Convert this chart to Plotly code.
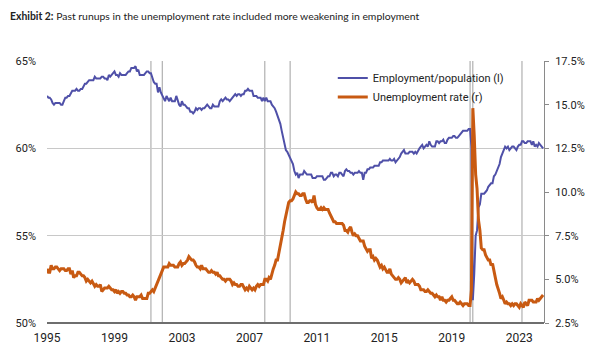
import pandas as pd
import plotly.graph_objects as go

# Monthly data, Jan 1995 onward
emp_pop = [
    63.0, 62.9, 62.9, 62.8, 62.6, 62.5, 62.6, 62.6, 62.6, 62.6, 62.5, 62.5,  # 1995
    62.7, 62.9, 62.9, 63.0, 63.0, 63.2, 63.3, 63.3, 63.3, 63.4, 63.3, 63.3,  # 1996
    63.4, 63.4, 63.6, 63.7, 63.7, 63.8, 63.9, 63.9, 63.9, 63.9, 64.1, 64.0,  # 1997
    64.0, 64.0, 64.0, 64.1, 64.1, 64.0, 64.0, 63.9, 64.2, 64.1, 64.2, 64.3,  # 1998
    64.4, 64.2, 64.2, 64.1, 64.3, 64.2, 64.2, 64.2, 64.2, 64.3, 64.4, 64.4,  # 1999
    64.6, 64.6, 64.6, 64.7, 64.4, 64.5, 64.2, 64.2, 64.2, 64.2, 64.3, 64.4,  # 2000
    64.4, 64.3, 64.3, 64.0, 63.8, 63.7, 63.7, 63.2, 63.5, 63.2, 63.0, 62.9,  # 2001
    62.7, 63.0, 62.8, 62.7, 62.9, 62.7, 62.7, 62.7, 63.0, 62.7, 62.5, 62.4,  # 2002
    62.7, 62.5, 62.5, 62.4, 62.3, 62.3, 62.1, 62.1, 62.0, 62.1, 62.3, 62.2,  # 2003
    62.3, 62.3, 62.2, 62.3, 62.3, 62.4, 62.5, 62.4, 62.3, 62.3, 62.5, 62.4,  # 2004
    62.4, 62.4, 62.4, 62.7, 62.8, 62.7, 62.8, 62.9, 62.8, 62.8, 62.7, 62.8,  # 2005
    62.9, 63.0, 63.1, 63.0, 63.1, 63.1, 63.0, 63.1, 63.1, 63.3, 63.3, 63.4,  # 2006
    63.3, 63.3, 63.3, 63.0, 63.0, 63.0, 62.9, 62.9, 62.9, 62.7, 62.9, 62.7,  # 2007
    62.9, 62.7, 62.7, 62.7, 62.5, 62.4, 62.3, 62.1, 61.9, 61.7, 61.4, 61.0,  # 2008
    60.6, 60.3, 59.9, 59.8, 59.6, 59.4, 59.3, 59.1, 58.7, 58.5, 58.6, 58.3,  # 2009
    58.5, 58.5, 58.5, 58.7, 58.6, 58.5, 58.5, 58.5, 58.5, 58.3, 58.3, 58.3,  # 2010
    58.4, 58.4, 58.4, 58.4, 58.4, 58.2, 58.2, 58.3, 58.4, 58.4, 58.6, 58.6,  # 2011
    58.4, 58.5, 58.5, 58.4, 58.6, 58.6, 58.5, 58.4, 58.7, 58.8, 58.7, 58.7,  # 2012
    58.6, 58.6, 58.5, 58.6, 58.6, 58.6, 58.7, 58.6, 58.6, 58.2, 58.6, 58.6,  # 2013
    58.8, 58.8, 58.9, 58.9, 58.9, 59.0, 59.0, 59.0, 59.0, 59.2, 59.2, 59.3,  # 2014
    59.3, 59.3, 59.3, 59.3, 59.4, 59.3, 59.3, 59.4, 59.2, 59.3, 59.4, 59.5,  # 2015
    59.7, 59.8, 59.9, 59.7, 59.7, 59.7, 59.8, 59.8, 59.8, 59.7, 59.8, 59.7,  # 2016
    59.9, 60.0, 60.1, 60.2, 60.0, 60.1, 60.2, 60.1, 60.4, 60.2, 60.1, 60.1,  # 2017
    60.1, 60.4, 60.4, 60.3, 60.4, 60.4, 60.5, 60.3, 60.3, 60.5, 60.6, 60.6,  # 2018
    60.6, 60.7, 60.7, 60.6, 60.6, 60.7, 60.8, 60.9, 61.0, 61.0, 61.0, 61.0,  # 2019
    61.1, 61.1, 60.1, 51.3, 52.8, 55.0, 55.3, 56.6, 56.8, 57.4, 57.4, 57.4,  # 2020
    57.5, 57.6, 57.8, 57.9, 58.0, 58.0, 58.4, 58.5, 58.7, 58.8, 59.1, 59.5,  # 2021
    59.7, 59.9, 60.1, 60.0, 60.1, 59.9, 60.0, 60.1, 60.1, 60.0, 59.9, 60.1,  # 2022
    60.2, 60.2, 60.4, 60.4, 60.3, 60.3, 60.4, 60.4, 60.4, 60.2, 60.4, 60.1,  # 2023
    60.2, 60.1, 60.3, 60.2, 60.1, 60.0,                                      # 2024
]

unemp_rate = [
    5.6, 5.4, 5.4, 5.8, 5.6, 5.6, 5.7, 5.7, 5.6, 5.5, 5.6, 5.6,  # 1995
    5.6, 5.5, 5.5, 5.6, 5.6, 5.3, 5.5, 5.1, 5.2, 5.2, 5.4, 5.4,  # 1996
    5.3, 5.2, 5.2, 5.1, 4.9, 5.0, 4.9, 4.8, 4.9, 4.7, 4.6, 4.7,  # 1997
    4.6, 4.6, 4.7, 4.3, 4.4, 4.5, 4.5, 4.5, 4.6, 4.5, 4.4, 4.4,  # 1998
    4.3, 4.4, 4.2, 4.3, 4.2, 4.3, 4.3, 4.2, 4.2, 4.1, 4.1, 4.0,  # 1999
    4.0, 4.1, 4.0, 3.8, 4.0, 4.0, 4.0, 4.1, 3.9, 3.9, 3.9, 3.9,  # 2000
    4.2, 4.2, 4.3, 4.4, 4.3, 4.5, 4.6, 4.9, 5.0, 5.3, 5.5, 5.7,  # 2001
    5.7, 5.7, 5.7, 5.9, 5.8, 5.8, 5.8, 5.7, 5.7, 5.7, 5.9, 6.0,  # 2002
    5.8, 5.9, 5.9, 6.0, 6.1, 6.3, 6.2, 6.1, 6.1, 6.0, 5.8, 5.7,  # 2003
    5.7, 5.6, 5.8, 5.6, 5.6, 5.6, 5.5, 5.4, 5.4, 5.5, 5.4, 5.4,  # 2004
    5.3, 5.4, 5.2, 5.2, 5.1, 5.0, 5.0, 4.9, 5.0, 5.0, 5.0, 4.9,  # 2005
    4.7, 4.8, 4.7, 4.7, 4.6, 4.6, 4.7, 4.7, 4.5, 4.4, 4.5, 4.4,  # 2006
    4.6, 4.5, 4.4, 4.5, 4.4, 4.6, 4.7, 4.6, 4.7, 4.7, 4.7, 5.0,  # 2007
    5.0, 4.9, 5.1, 5.0, 5.4, 5.6, 5.8, 6.1, 6.1, 6.5, 6.8, 7.3,  # 2008
    7.8, 8.3, 8.7, 9.0, 9.4, 9.5, 9.5, 9.6, 9.8, 10.0, 9.9, 9.9,  # 2009
    9.8, 9.8, 9.9, 9.9, 9.6, 9.4, 9.4, 9.5, 9.5, 9.4, 9.8, 9.3,  # 2010
    9.1, 9.0, 9.0, 9.1, 9.0, 9.1, 9.0, 9.0, 9.0, 8.8, 8.6, 8.5,  # 2011
    8.3, 8.3, 8.2, 8.2, 8.2, 8.2, 8.2, 8.1, 7.8, 7.8, 7.7, 7.9,  # 2012
    8.0, 7.7, 7.5, 7.6, 7.5, 7.5, 7.3, 7.2, 7.2, 7.2, 6.9, 6.7,  # 2013
    6.6, 6.7, 6.7, 6.2, 6.3, 6.1, 6.2, 6.1, 5.9, 5.7, 5.8, 5.6,  # 2014
    5.7, 5.5, 5.4, 5.4, 5.6, 5.3, 5.2, 5.1, 5.0, 5.0, 5.1, 5.0,  # 2015
    4.8, 4.9, 5.0, 5.1, 4.8, 4.9, 4.8, 4.9, 5.0, 4.9, 4.7, 4.7,  # 2016
    4.7, 4.6, 4.4, 4.4, 4.4, 4.3, 4.3, 4.4, 4.3, 4.2, 4.2, 4.1,  # 2017
    4.0, 4.1, 4.0, 4.0, 3.8, 4.0, 3.8, 3.8, 3.7, 3.8, 3.8, 3.9,  # 2018
    4.0, 3.8, 3.8, 3.7, 3.6, 3.6, 3.7, 3.6, 3.5, 3.6, 3.6, 3.6,  # 2019
    3.5, 3.5, 4.4, 14.8, 13.2, 11.0, 10.2, 8.4, 7.8, 6.8, 6.7, 6.7,  # 2020
    6.4, 6.2, 6.1, 6.1, 5.8, 5.9, 5.4, 5.1, 4.7, 4.5, 4.2, 3.9,  # 2021
    4.0, 3.8, 3.6, 3.7, 3.6, 3.6, 3.5, 3.6, 3.5, 3.6, 3.6, 3.5,  # 2022
    3.4, 3.6, 3.5, 3.4, 3.7, 3.6, 3.5, 3.8, 3.8, 3.8, 3.7, 3.7,  # 2023
    3.7, 3.9, 3.8, 3.9, 4.0, 4.1,                                # 2024
]

start_month = "1995-01-01"
marker_dates = ["2001-03-01", "2001-11-01", "2007-12-01", "2009-06-01",
                "2020-02-01", "2020-04-01", "2023-03-01"]
x_tick_years = [1995, 1999, 2003, 2007, 2011, 2015, 2019, 2023]
left_ticks = [50, 55, 60, 65]
right_ticks = [2.5, 5.0, 7.5, 10.0, 12.5, 15.0, 17.5]

dates = pd.date_range(start_month, periods=len(emp_pop), freq="MS")

BLUE = "#4f50a8"
ORANGE = "#c85a12"
TXT = "#222222"
FONT = "Roboto"

fig = go.Figure()
fig.add_trace(go.Scatter(x=dates, y=emp_pop, name="Employment/population (l)",
                         mode="lines", line=dict(color=BLUE, width=2), yaxis="y"))
fig.add_trace(go.Scatter(x=dates, y=unemp_rate, name="Unemployment rate (r)",
                         mode="lines", line=dict(color=ORANGE, width=3), yaxis="y2"))

for d in marker_dates:
    fig.add_shape(type="line", xref="x", yref="paper", x0=d, x1=d, y0=0, y1=1,
                  line=dict(color="#a0a0a0", width=1), layer="below")

fig.update_layout(
    width=600, height=358,
    margin=dict(l=47, r=56, t=61, b=35),
    paper_bgcolor="white", plot_bgcolor="white",
    font=dict(family=FONT, size=11, color=TXT),
    showlegend=True,
    legend=dict(x=0.575, y=0.99, xanchor="left", yanchor="top",
                bgcolor="rgba(0,0,0,0)", font=dict(size=11, color=TXT),
                tracegroupgap=0, itemwidth=30),
    xaxis=dict(type="date", range=["1995-01-01", "2024-06-20"],
               tickvals=[f"{y}-01-01" for y in x_tick_years],
               ticktext=[str(y) for y in x_tick_years],
               showgrid=False, zeroline=False, showline=False,
               ticks="", ticklabelstandoff=6, tickfont=dict(size=12, color=TXT)),
    yaxis=dict(range=[50, 65], tickvals=left_ticks,
               ticktext=[f"{v}%" for v in left_ticks],
               showgrid=True, gridcolor="#c8c8c8", gridwidth=1,
               zeroline=False, showline=False, ticks="", ticklen=0,
               ticklabelstandoff=10, tickfont=dict(size=11, color=TXT)),
    yaxis2=dict(range=[2.5, 17.5], overlaying="y", side="right",
                tickvals=right_ticks, ticktext=[f"{v:.1f}%" for v in right_ticks],
                showgrid=False, zeroline=False, showline=True,
                linecolor="#8a8a8a", linewidth=1, ticks="outside", ticklen=4,
                tickcolor="#8a8a8a", ticklabelstandoff=4,
                tickfont=dict(size=11, color=TXT)),
)

# bottom axis line
fig.add_shape(type="line", xref="paper", yref="paper", x0=0, x1=1, y0=0, y1=0,
              line=dict(color="#6e6e6e", width=2))

fig.add_annotation(xref="paper", yref="paper", x=-0.078, y=1.172,
                   xanchor="left", yanchor="middle", showarrow=False,
                   text="<b>Exhibit 2:</b> Past runups in the unemployment rate included more weakening in employment",
                   font=dict(family="Lato", size=10.4, color="#222222"))

fig.write_html("out.html", config={"displayModeBar": False},
               post_script="document.body.style.margin='0';")
